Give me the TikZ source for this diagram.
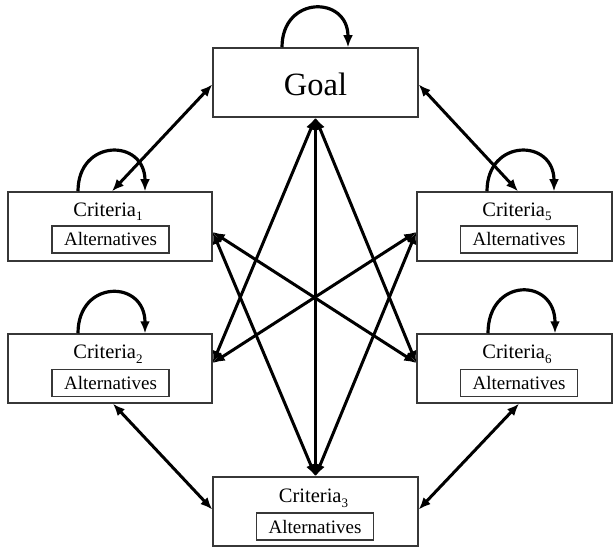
\documentclass[tikz,border=0pt]{standalone}
\usepackage{fontspec}
\setmainfont{Liberation Serif}
\usetikzlibrary{arrows.meta,calc}
\definecolor{edge}{RGB}{55,55,55}
\newcommand\critsub[1]{\raisebox{-4.5pt}{\fontsize{13}{13}\selectfont #1}}

\begin{document}
\begin{tikzpicture}[x=1pt,y=-1pt,
  critbox/.style={draw=edge, line width=1.5pt, inner sep=0, minimum height=69pt},
  altbox/.style={draw=edge, line width=1.5pt, inner sep=0, minimum width=117pt,
    minimum height=27pt, font=\fontsize{19}{20}\selectfont},
  critlabel/.style={anchor=base, inner sep=0, font=\fontsize{20.5}{22}\selectfont},
  tip/.tip={Latex[length=12pt,width=10pt]},
  link/.style={line width=3pt, tip-tip},
  selfloop/.style={line width=3.2pt, -tip}]
\useasboundingbox (0,0) rectangle (613,548);

% goal
\node[critbox, minimum width=205pt] (goal) at (315.5,82.5) {};
\node[anchor=base, inner sep=0, font=\fontsize{32.5}{34}\selectfont] (goaltxt) at (315.5,95.5) {Goal};

% criteria on the left
\node[critbox, minimum width=204pt] (c1) at (110,226.5) {};
\node[critlabel] (c1t) at (108,216.5) {Criteria\critsub{1}};
\node[altbox] (c1a) at (110.5,239.5) {Alternatives};

\node[critbox, minimum width=204pt] (c2) at (110,368.5) {};
\node[critlabel] (c2t) at (108,358.5) {Criteria\critsub{2}};
\node[altbox] (c2a) at (110.5,383) {Alternatives};

% criteria on the right
\node[critbox, minimum width=195pt] (c5) at (514.5,226.5) {};
\node[critlabel] (c5t) at (517,216.5) {Criteria\critsub{5}};
\node[altbox] (c5a) at (519,239.5) {Alternatives};

\node[critbox, minimum width=195pt] (c6) at (514.5,368.5) {};
\node[critlabel] (c6t) at (517,358.5) {Criteria\critsub{6}};
\node[altbox] (c6a) at (519,383) {Alternatives};

% criteria at the bottom
\node[critbox, minimum width=205pt] (c3) at (315.5,511.5) {};
\node[critlabel] (c3t) at (313.5,502.5) {Criteria\critsub{3}};
\node[altbox] (c3a) at (315,526.5) {Alternatives};

% self loops
\draw[selfloop] ([xshift=-33.5pt]goal.north) .. controls +(0,-52) and +(0,-52) .. ([xshift=32.5pt]goal.north);
\draw[selfloop] ([xshift=-32pt]c1.north) .. controls +(0,-53) and +(0,-53) .. ([xshift=35pt]c1.north);
\draw[selfloop] ([xshift=-32pt]c2.north) .. controls +(0,-54) and +(0,-54) .. ([xshift=35pt]c2.north);
\draw[selfloop] ([xshift=-27.5pt]c5.north) .. controls +(0,-53) and +(0,-53) .. ([xshift=39.5pt]c5.north);
\draw[selfloop] ([xshift=-26.5pt]c6.north) .. controls +(0,-56) and +(0,-56) .. ([xshift=40.5pt]c6.north);

% outer ring
\draw[link] ([yshift=-2pt]goal.west) -- ([xshift=2pt]c1.north);
\draw[link] ([yshift=-2pt]goal.east) -- ([xshift=3.5pt]c5.north);
\draw[link] ([xshift=3pt]c2.south) -- ([yshift=2pt]c3.west);
\draw[link] ([xshift=4.5pt]c6.south) -- ([yshift=2pt]c3.east);

% inner star
\draw[link] (goal.south) -- (c3.north);
\draw[link] (goal.south) -- ([yshift=5.5pt]c2.east);
\draw[link] (goal.south) -- ([yshift=5.5pt]c6.west);
\draw[link] (c3.north) -- ([yshift=-5.5pt]c1.east);
\draw[link] (c3.north) -- ([yshift=-5.5pt]c5.west);
\draw[link] ([yshift=-5.5pt]c1.east) -- ([yshift=5.5pt]c6.west);
\draw[link] ([yshift=5.5pt]c2.east) -- ([yshift=-5.5pt]c5.west);
\end{tikzpicture}
\end{document}
